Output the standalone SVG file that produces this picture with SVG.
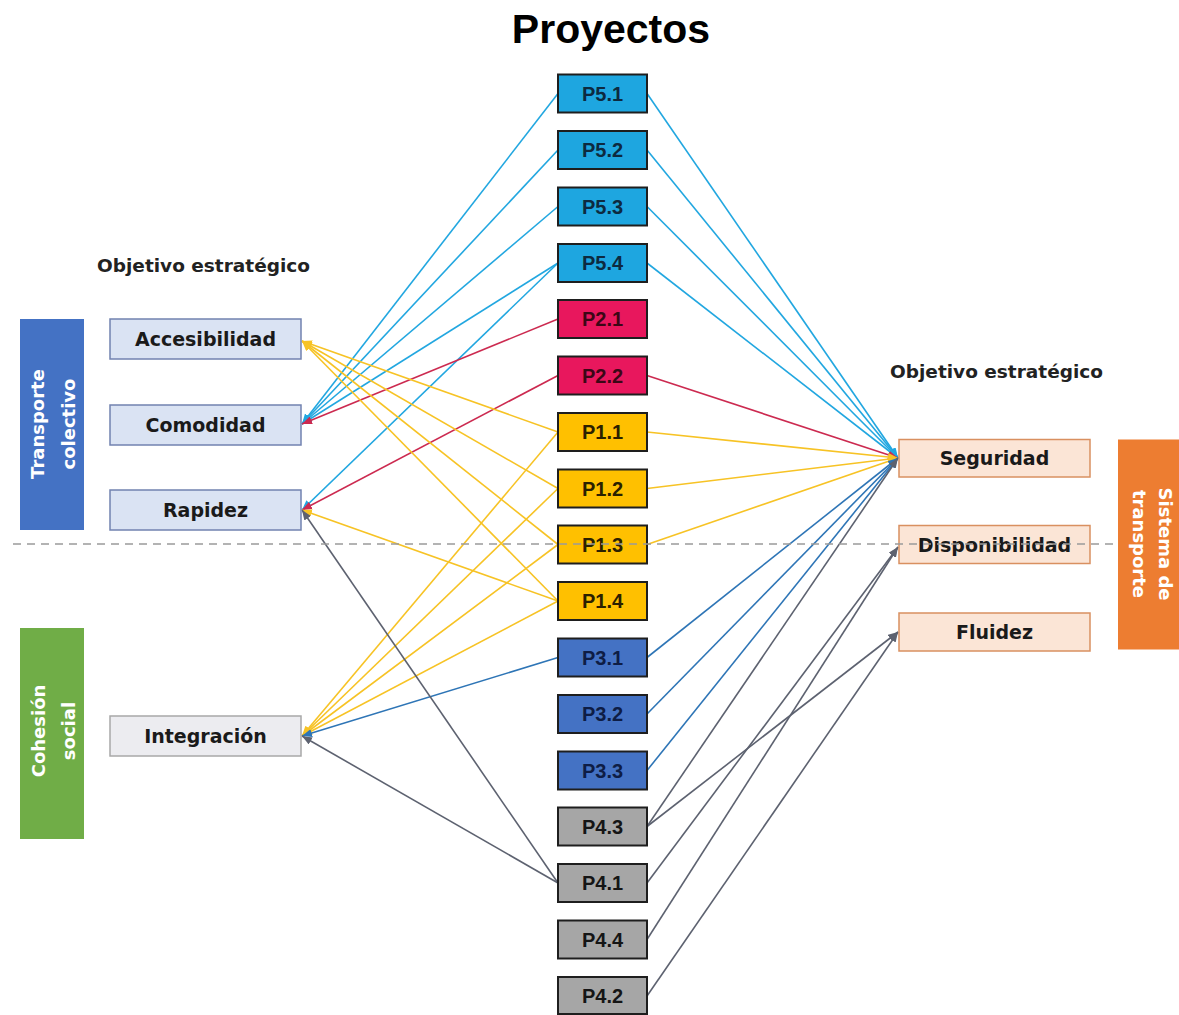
<svg xmlns="http://www.w3.org/2000/svg" width="1179" height="1015" viewBox="0 0 1179 1015">
  <style>
    .title { font-family: "Liberation Sans", Arial, sans-serif; font-weight: bold; font-size: 41px; fill: #000; }
    .head { font-family: "DejaVu Sans", Verdana, sans-serif; font-weight: bold; font-size: 18.5px; fill: #222; }
    .lbl { font-family: "DejaVu Sans", Verdana, sans-serif; font-weight: bold; font-size: 19px; fill: #1a1a1a; }
    .bar { font-family: "DejaVu Sans", Verdana, sans-serif; font-weight: bold; font-size: 18px; fill: #fff; }
    .pl { font-family: "Liberation Sans", Arial, sans-serif; font-weight: bold; font-size: 20px; }
    .obj { fill: #dae3f3; stroke: #7282b0; stroke-width: 1.5; }
    .obj-g { fill: #ececf0; stroke: #a8a8a8; stroke-width: 1.5; }
    .sys { fill: #fbe5d6; stroke: #d99060; stroke-width: 1.5; }
    .p { stroke: #1e1e1e; stroke-width: 2; }
    .p5 { fill: #1ea6e0; } .p5t { fill: #0d2a40; }
    .p2 { fill: #e8175d; } .p2t { fill: #3b0716; }
    .p1 { fill: #ffc000; } .p1t { fill: #2b2000; }
    .p3 { fill: #4472c4; } .p3t { fill: #0e1d45; }
    .p4 { fill: #a6a6a6; } .p4t { fill: #151515; }
    #connectors line { stroke-width: 1.6; fill: none; }
    .lb { stroke: #22a7e0; marker-end: url(#a-lb); }
    .rd { stroke: #cc2a50; marker-end: url(#a-rd); }
    .yl { stroke: #f7c325; marker-end: url(#a-yl); }
    .mb { stroke: #2e75b6; marker-end: url(#a-mb); }
    .gr { stroke: #5d6270; marker-end: url(#a-gr); }
  </style>
  <defs>
    <marker id="a-lb" markerUnits="userSpaceOnUse" markerWidth="10" markerHeight="8" refX="10" refY="4" orient="auto"><path d="M0,0 L10,4 L0,8 z" fill="#22a7e0"/></marker>
    <marker id="a-rd" markerUnits="userSpaceOnUse" markerWidth="10" markerHeight="8" refX="10" refY="4" orient="auto"><path d="M0,0 L10,4 L0,8 z" fill="#cc2a50"/></marker>
    <marker id="a-yl" markerUnits="userSpaceOnUse" markerWidth="10" markerHeight="8" refX="10" refY="4" orient="auto"><path d="M0,0 L10,4 L0,8 z" fill="#f7c325"/></marker>
    <marker id="a-mb" markerUnits="userSpaceOnUse" markerWidth="10" markerHeight="8" refX="10" refY="4" orient="auto"><path d="M0,0 L10,4 L0,8 z" fill="#2e75b6"/></marker>
    <marker id="a-gr" markerUnits="userSpaceOnUse" markerWidth="10" markerHeight="8" refX="10" refY="4" orient="auto"><path d="M0,0 L10,4 L0,8 z" fill="#5d6270"/></marker>
  </defs>

  <rect width="1179" height="1015" fill="#fff"/>

  <text class="title" x="611" y="43" text-anchor="middle">Proyectos</text>
  <text class="head" x="203.5" y="272" text-anchor="middle">Objetivo estratégico</text>
  <text class="head" x="996.5" y="378" text-anchor="middle">Objetivo estratégico</text>

  <!-- project → objective links -->
  <g id="connectors">
    <!-- P5 family -->
    <line class="lb" x1="558" y1="93.5" x2="302" y2="424"/>
    <line class="lb" x1="558" y1="150" x2="302" y2="424"/>
    <line class="lb" x1="558" y1="206.5" x2="302" y2="424"/>
    <line class="lb" x1="558" y1="263" x2="302" y2="424"/>
    <line class="lb" x1="558" y1="263" x2="302" y2="510"/>
    <line class="lb" x1="647" y1="93.5" x2="898" y2="458"/>
    <line class="lb" x1="647" y1="150" x2="898" y2="458"/>
    <line class="lb" x1="647" y1="206.5" x2="898" y2="458"/>
    <line class="lb" x1="647" y1="263" x2="898" y2="458"/>
    <!-- P2 family -->
    <line class="rd" x1="558" y1="319" x2="302" y2="424"/>
    <line class="rd" x1="558" y1="375.5" x2="302" y2="510"/>
    <line class="rd" x1="647" y1="375.5" x2="898" y2="458"/>
    <!-- P1 family -->
    <line class="yl" x1="558" y1="432" x2="302" y2="341"/>
    <line class="yl" x1="558" y1="488.5" x2="302" y2="341"/>
    <line class="yl" x1="558" y1="544.5" x2="302" y2="341"/>
    <line class="yl" x1="558" y1="601" x2="302" y2="341"/>
    <line class="yl" x1="558" y1="601" x2="302" y2="510"/>
    <line class="yl" x1="558" y1="432" x2="302" y2="736"/>
    <line class="yl" x1="558" y1="488.5" x2="302" y2="736"/>
    <line class="yl" x1="558" y1="544.5" x2="302" y2="736"/>
    <line class="yl" x1="558" y1="601" x2="302" y2="736"/>
    <line class="yl" x1="647" y1="432" x2="898" y2="458"/>
    <line class="yl" x1="647" y1="488.5" x2="898" y2="458"/>
    <line class="yl" x1="647" y1="544.5" x2="898" y2="458"/>
    <!-- P3 family -->
    <line class="mb" x1="558" y1="657.5" x2="302" y2="736"/>
    <line class="mb" x1="647" y1="657.5" x2="898" y2="458"/>
    <line class="mb" x1="647" y1="714" x2="898" y2="458"/>
    <line class="mb" x1="647" y1="770.5" x2="898" y2="458"/>
    <!-- P4 family -->
    <line class="gr" x1="558" y1="883" x2="302" y2="510"/>
    <line class="gr" x1="558" y1="883" x2="302" y2="736"/>
    <line class="gr" x1="647" y1="826.5" x2="898" y2="458"/>
    <line class="gr" x1="647" y1="826.5" x2="898" y2="632"/>
    <line class="gr" x1="647" y1="883" x2="898" y2="547"/>
    <line class="gr" x1="647" y1="939.5" x2="898" y2="547"/>
    <line class="gr" x1="647" y1="996" x2="898" y2="632"/>
  </g>

  <!-- side category bars -->
  <g id="bar-transporte-colectivo">
    <rect x="20" y="319" width="64" height="211" fill="#4472c4"/>
    <text class="bar" transform="translate(44,424) rotate(-90)" text-anchor="middle">Transporte</text>
    <text class="bar" transform="translate(75,424) rotate(-90)" text-anchor="middle">colectivo</text>
  </g>
  <g id="bar-cohesion-social">
    <rect x="20" y="628" width="64" height="211" fill="#70ad47"/>
    <text class="bar" transform="translate(45,731) rotate(-90)" text-anchor="middle">Cohesión</text>
    <text class="bar" transform="translate(75,731) rotate(-90)" text-anchor="middle">social</text>
  </g>

  <!-- strategic objectives, left -->
  <g id="obj-accesibilidad">
    <rect class="obj" x="110" y="319" width="191" height="40"/>
    <text class="lbl" x="205.5" y="346" text-anchor="middle">Accesibilidad</text>
  </g>
  <g id="obj-comodidad">
    <rect class="obj" x="110" y="405" width="191" height="40"/>
    <text class="lbl" x="205.5" y="432" text-anchor="middle">Comodidad</text>
  </g>
  <g id="obj-rapidez">
    <rect class="obj" x="110" y="490" width="191" height="40"/>
    <text class="lbl" x="205.5" y="517" text-anchor="middle">Rapidez</text>
  </g>
  <g id="obj-integracion">
    <rect class="obj-g" x="110" y="716" width="191" height="40"/>
    <text class="lbl" x="205.5" y="743" text-anchor="middle">Integración</text>
  </g>

  <!-- projects -->
  <g id="p5-1"><rect class="p p5" x="558" y="74.5" width="89" height="38"/><text class="pl p5t" x="602.5" y="100.5" text-anchor="middle">P5.1</text></g>
  <g id="p5-2"><rect class="p p5" x="558" y="131" width="89" height="38"/><text class="pl p5t" x="602.5" y="157" text-anchor="middle">P5.2</text></g>
  <g id="p5-3"><rect class="p p5" x="558" y="187.5" width="89" height="38"/><text class="pl p5t" x="602.5" y="213.5" text-anchor="middle">P5.3</text></g>
  <g id="p5-4"><rect class="p p5" x="558" y="244" width="89" height="38"/><text class="pl p5t" x="602.5" y="270" text-anchor="middle">P5.4</text></g>
  <g id="p2-1"><rect class="p p2" x="558" y="300" width="89" height="38"/><text class="pl p2t" x="602.5" y="326" text-anchor="middle">P2.1</text></g>
  <g id="p2-2"><rect class="p p2" x="558" y="356.5" width="89" height="38"/><text class="pl p2t" x="602.5" y="382.5" text-anchor="middle">P2.2</text></g>
  <g id="p1-1"><rect class="p p1" x="558" y="413" width="89" height="38"/><text class="pl p1t" x="602.5" y="439" text-anchor="middle">P1.1</text></g>
  <g id="p1-2"><rect class="p p1" x="558" y="469.5" width="89" height="38"/><text class="pl p1t" x="602.5" y="495.5" text-anchor="middle">P1.2</text></g>
  <g id="p1-3"><rect class="p p1" x="558" y="525.5" width="89" height="38"/><text class="pl p1t" x="602.5" y="551.5" text-anchor="middle">P1.3</text></g>
  <g id="p1-4"><rect class="p p1" x="558" y="582" width="89" height="38"/><text class="pl p1t" x="602.5" y="608" text-anchor="middle">P1.4</text></g>
  <g id="p3-1"><rect class="p p3" x="558" y="638.5" width="89" height="38"/><text class="pl p3t" x="602.5" y="664.5" text-anchor="middle">P3.1</text></g>
  <g id="p3-2"><rect class="p p3" x="558" y="695" width="89" height="38"/><text class="pl p3t" x="602.5" y="721" text-anchor="middle">P3.2</text></g>
  <g id="p3-3"><rect class="p p3" x="558" y="751.5" width="89" height="38"/><text class="pl p3t" x="602.5" y="777.5" text-anchor="middle">P3.3</text></g>
  <g id="p4-3"><rect class="p p4" x="558" y="807.5" width="89" height="38"/><text class="pl p4t" x="602.5" y="833.5" text-anchor="middle">P4.3</text></g>
  <g id="p4-1"><rect class="p p4" x="558" y="864" width="89" height="38"/><text class="pl p4t" x="602.5" y="890" text-anchor="middle">P4.1</text></g>
  <g id="p4-4"><rect class="p p4" x="558" y="920.5" width="89" height="38"/><text class="pl p4t" x="602.5" y="946.5" text-anchor="middle">P4.4</text></g>
  <g id="p4-2"><rect class="p p4" x="558" y="977" width="89" height="37"/><text class="pl p4t" x="602.5" y="1003" text-anchor="middle">P4.2</text></g>

  <!-- strategic objectives, right -->
  <g id="obj-seguridad">
    <rect class="sys" x="899" y="439.5" width="191" height="37.5"/>
    <text class="lbl" x="994.5" y="465" text-anchor="middle">Seguridad</text>
  </g>
  <g id="obj-disponibilidad">
    <rect class="sys" x="899" y="525.5" width="191" height="38"/>
    <text class="lbl" x="994.5" y="551.5" text-anchor="middle">Disponibilidad</text>
  </g>
  <g id="obj-fluidez">
    <rect class="sys" x="899" y="613" width="191" height="38"/>
    <text class="lbl" x="994.5" y="639" text-anchor="middle">Fluidez</text>
  </g>

  <!-- divider between the two groups -->
  <line x1="13" y1="544" x2="1118" y2="544" stroke="#9a9a9a" stroke-width="1.5" stroke-dasharray="8 6"/>

  <g id="bar-sistema-transporte">
    <rect x="1118" y="439.5" width="61" height="210" fill="#ed7d31"/>
    <text class="bar" transform="translate(1159,544) rotate(90)" text-anchor="middle">Sistema de</text>
    <text class="bar" transform="translate(1133,544) rotate(90)" text-anchor="middle">transporte</text>
  </g>
</svg>
